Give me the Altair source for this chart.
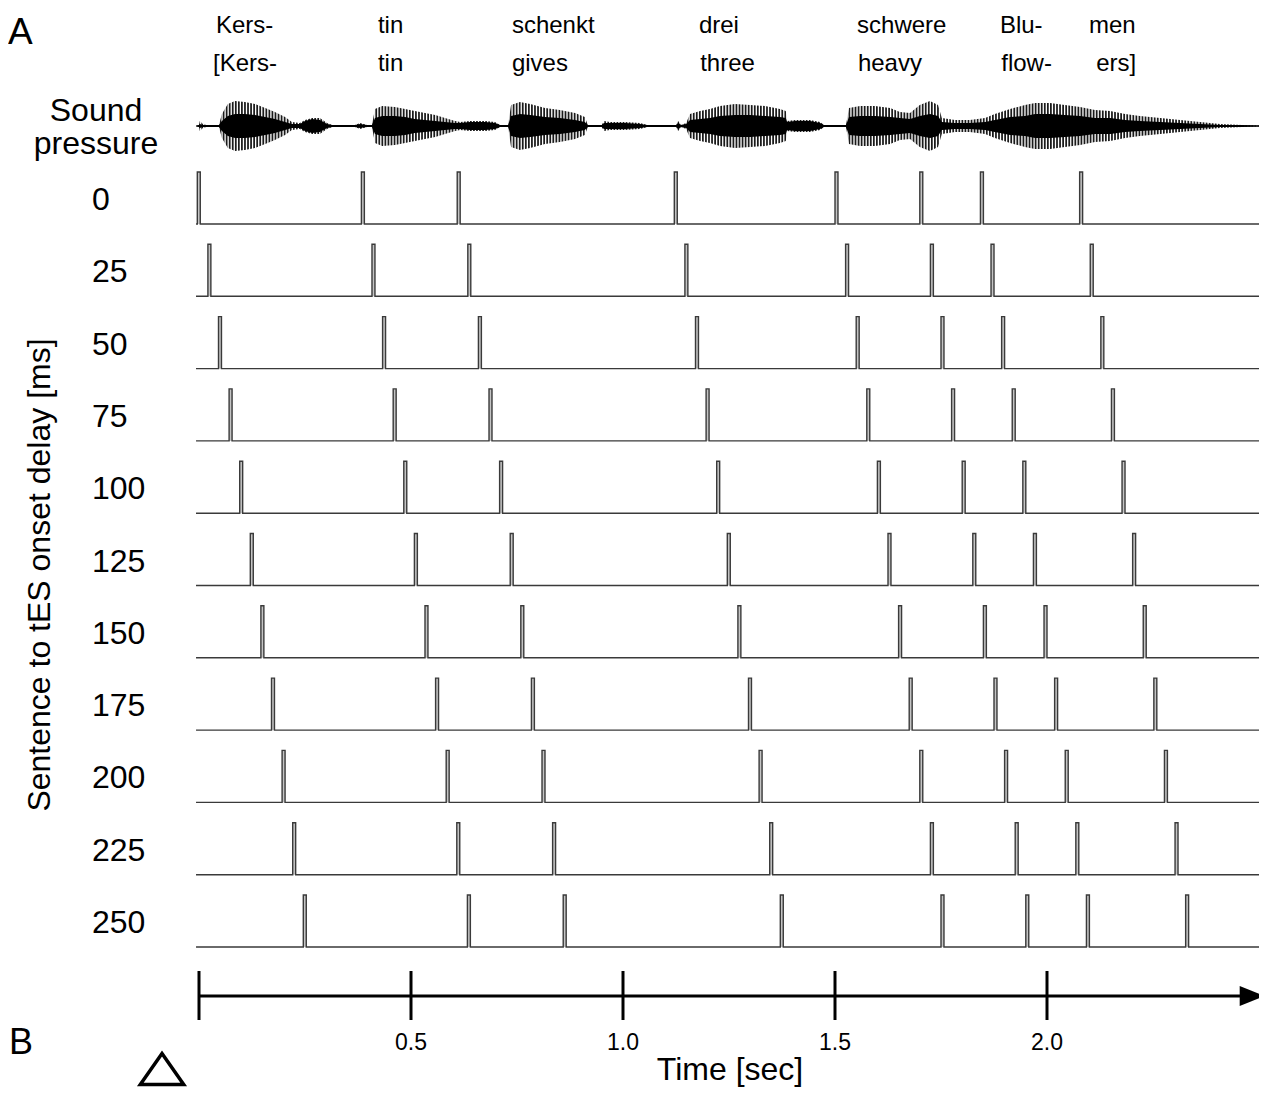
import altair as alt
import pandas as pd

# ---------------- data ----------------
DELAYS_MS = [0, 25, 50, 75, 100, 125, 150, 175, 200, 225, 250]
ROW0_ONSETS_S = [-0.004, 0.383, 0.609, 1.121, 1.500, 1.700, 1.843, 2.077]
PULSE_WIDTH_S = 0.007

WORDS_DE = ["Kers-", "tin", "schenkt", "drei", "schwere", "Blu-", "men"]
WORDS_DE_T = [0.040, 0.422, 0.738, 1.179, 1.552, 1.889, 2.099]
WORDS_EN = ["[Kers-", "tin", "gives", "three", "heavy", "flow-", "ers]"]
WORDS_EN_T = [0.033, 0.422, 0.738, 1.182, 1.554, 1.892, 2.116]

# sound-pressure envelope (time s, outer amplitude, dense-core amplitude)
ENV_T = [-0.007, 0.000, 0.002, 0.009, 0.017, 0.047, 0.054, 0.068, 0.085, 0.108,
         0.132, 0.156, 0.179, 0.203, 0.219, 0.238, 0.250, 0.267, 0.285, 0.302,
         0.314, 0.368, 0.380, 0.396, 0.408, 0.415, 0.432, 0.462, 0.486, 0.509,
         0.533, 0.557, 0.580, 0.604, 0.616, 0.639, 0.675, 0.698, 0.710, 0.729,
         0.736, 0.757, 0.781, 0.816, 0.851, 0.887, 0.910, 0.917, 0.950, 0.955,
         0.969, 1.005, 1.040, 1.057, 1.125, 1.130, 1.137, 1.149, 1.158, 1.182,
         1.205, 1.229, 1.264, 1.300, 1.335, 1.370, 1.384, 1.387, 1.406, 1.441,
         1.465, 1.474, 1.526, 1.533, 1.559, 1.594, 1.630, 1.653, 1.677, 1.700,
         1.724, 1.743, 1.752, 1.783, 1.818, 1.854, 1.877, 1.913, 1.948, 1.972,
         2.007, 2.042, 2.078, 2.113, 2.149, 2.184, 2.219, 2.267, 2.314, 2.361,
         2.408, 2.460, 2.500]
ENV_OUTER = [0, 1, 5, 2, 1, 1, 12, 22, 25, 24,
             22, 18, 14, 9, 4, 3, 6, 8, 8, 3,
             1, 1, 3, 1, 1, 17, 20, 19, 17, 15,
             13, 11, 8, 5, 4, 5, 5, 4, 1, 1,
             21, 24, 22, 18, 16, 13, 9, 1, 1, 5,
             4, 4, 3, 1, 1, 5, 1, 3, 12, 15,
             17, 20, 22, 21, 20, 17, 15, 5, 6, 6,
             4, 1, 1, 18, 20, 20, 18, 14, 13, 21,
             25, 21, 8, 6, 6, 8, 12, 17, 21, 23,
             23, 21, 19, 16, 15, 12, 10, 8, 6, 4,
             2, 1, 0.5]
ENV_INNER = [0, 1, 2, 1, 1, 1, 5, 10, 12, 12,
             11, 9, 7, 4, 2, 2, 5, 7, 6, 2,
             1, 1, 2, 1, 1, 8, 10, 10, 9, 7,
             6, 5, 4, 3, 3, 4, 4, 3, 1, 1,
             10, 12, 11, 9, 8, 6, 4, 1, 1, 3,
             3, 3, 2, 1, 1, 3, 1, 2, 6, 7,
             8, 10, 11, 11, 10, 9, 8, 4, 5, 5,
             3, 1, 1, 9, 10, 10, 9, 8, 7, 10,
             12, 10, 4, 3, 3, 4, 6, 9, 10, 12,
             12, 11, 10, 8, 8, 6, 5, 4, 3, 2,
             1, 1, 0.5]

TIME_TICKS = [0.0, 0.5, 1.0, 1.5, 2.0]
TICK_LABELS = ["", "0.5", "1.0", "1.5", "2.0"]
ROW_LABELS = [str(d) for d in DELAYS_MS]

# ---------------- layout (page pixels) ----------------
W, H = 1251, 1079
T_MIN, T_MAX = -0.45047, 2.5
ROW0_BASE, ROW_STEP, PULSE_H = 224.0, 72.3, 52.0
WAVE_Y = 126.0
FONT = "Liberation Sans"
STRIPE_STEP_S = 0.0072  # hatch spacing used only as a texture for the waveform

xs = alt.Scale(domain=[T_MIN, T_MAX])
ys = alt.Scale(domain=[8, 8 + H], reverse=True)
X = lambda f: alt.X(f, type="quantitative", scale=xs, axis=None)
Y = lambda f: alt.Y(f, type="quantitative", scale=ys, axis=None)

# pulse trains
rows = []
rects = []
t_start, t_end = -0.007, 2.5
for r, d in enumerate(DELAYS_MS):
    base = ROW0_BASE + r * ROW_STEP
    top = base - PULSE_H
    seq = 0
    rows.append(dict(row=r, seq=seq, t=t_start, y=base)); seq += 1
    for o in ROW0_ONSETS_S:
        t = o + d / 1000.0
        for tt, yy in [(t, base), (t, top), (t + PULSE_WIDTH_S, top), (t + PULSE_WIDTH_S, base)]:
            rows.append(dict(row=r, seq=seq, t=tt, y=yy)); seq += 1
        rects.append(dict(t=t, t2=t + PULSE_WIDTH_S, y=top, y2=base))
    rows.append(dict(row=r, seq=seq, t=t_end, y=base))
pulse_df = pd.DataFrame(rows)
rect_df = pd.DataFrame(rects)

pulse_fill = alt.Chart(rect_df).mark_rect(color="#c4c4c4").encode(
    x=X("t"), x2="t2", y=Y("y"), y2="y2")
pulse_lines = alt.Chart(pulse_df).mark_line(color="#3a3a3a", strokeWidth=1.4,
                                            interpolate="linear").encode(
    x=X("t"), y=Y("y"), detail="row:N", order="seq:Q")

# waveform
env_df = pd.DataFrame({"t": ENV_T, "outer": ENV_OUTER, "inner": ENV_INNER})
env_df["o_hi"] = WAVE_Y - env_df["outer"]
env_df["o_lo"] = WAVE_Y + env_df["outer"]
env_df["i_hi"] = WAVE_Y - env_df["inner"]
env_df["i_lo"] = WAVE_Y + env_df["inner"]
wave_outer = alt.Chart(env_df).mark_area(color="#1a1a1a").encode(
    x=X("t"), y=Y("o_hi"), y2="o_lo")
n_str = int((2.5 - 0.0) / STRIPE_STEP_S)
stripe_df = pd.DataFrame({"t": [0.004 + i * STRIPE_STEP_S for i in range(n_str)],
                          "y1": WAVE_Y - 30, "y2": WAVE_Y + 30})
stripes = alt.Chart(stripe_df).mark_rule(color="white", strokeWidth=1.3).encode(
    x=X("t"), y=Y("y1"), y2="y2")
wave_inner = alt.Chart(env_df).mark_area(color="#000000").encode(
    x=X("t"), y=Y("i_hi"), y2="i_lo")
wave_mid = alt.Chart(pd.DataFrame({"t": [t_start], "t2": [t_end], "y": [WAVE_Y]})).mark_rule(
    color="black", strokeWidth=1.2).encode(x=X("t"), x2="t2", y=Y("y"))

# words
words_df = pd.DataFrame({
    "t": WORDS_DE_T + WORDS_EN_T,
    "txt": WORDS_DE + WORDS_EN,
    "y": [33.0] * len(WORDS_DE) + [71.0] * len(WORDS_EN),
})
words = alt.Chart(words_df).mark_text(font=FONT, fontSize=24, align="left",
                                      baseline="alphabetic", color="black").encode(
    x=X("t"), y=Y("y"), text="txt:N")

# row labels
lab_df = pd.DataFrame({"txt": ROW_LABELS,
                       "y": [ROW0_BASE + i * ROW_STEP - 14 for i in range(len(ROW_LABELS))]})
row_labels = alt.Chart(lab_df).mark_text(font=FONT, fontSize=32, align="left",
                                         baseline="alphabetic", color="black").encode(
    x=alt.value(92 - 8), y=Y("y"), text="txt:N")

# time axis
AXIS_Y = 996.0
axis_line = alt.Chart(pd.DataFrame({"t": [0.0], "t2": [2.46], "y": [AXIS_Y]})).mark_rule(
    color="black", strokeWidth=3).encode(x=X("t"), x2="t2", y=Y("y"))
tick_df = pd.DataFrame({"t": TIME_TICKS, "lab": TICK_LABELS, "y1": 971.0, "y2": 1020.0, "ly": 1050.0})
ticks = alt.Chart(tick_df).mark_rule(color="black", strokeWidth=3).encode(
    x=X("t"), y=Y("y1"), y2="y2")
tick_labels = alt.Chart(tick_df).mark_text(font=FONT, fontSize=23, align="center",
                                           baseline="alphabetic", color="black").encode(
    x=X("t"), y=Y("ly"), text="lab:N")
arrow = alt.Chart(pd.DataFrame({"t": [2.484], "y": [AXIS_Y]})).mark_point(
    shape="M-1,-0.8L1,0L-1,0.8Z", size=625, filled=True, color="black", opacity=1).encode(
    x=X("t"), y=Y("y"))

# static annotations
def note(txt, px, py, size, align="left", angle=0, baseline="alphabetic"):
    kw = dict(font=FONT, fontSize=size, align=align, baseline=baseline, color="black", text=txt)
    if angle:
        kw["angle"] = angle
    return alt.Chart(pd.DataFrame({"a": [0]})).mark_text(**kw).encode(
        x=alt.value(px - 8), y=alt.value(py - 8))

notes = [
    note("A", 8, 44, 37),
    note("B", 9, 1054, 36),
    note("Sound", 96, 121, 32, align="center"),
    note("pressure", 96, 154, 32, align="center"),
    note("Sentence to tES onset delay [ms]", 40, 575, 32, align="center", angle=270,
         baseline="middle"),
    note("Time [sec]", 730, 1080, 32, align="center"),
]

head = alt.Chart(pd.DataFrame({"a": [0]})).mark_point(
    shape="M0,-1L1.4,1L-1.4,1Z", size=961, filled=False, color="black",
    strokeWidth=3.5, opacity=1).encode(x=alt.value(162 - 8), y=alt.value(1069 - 8))

chart = alt.layer(
    wave_outer, stripes, wave_inner, wave_mid, words,
    pulse_fill, pulse_lines, row_labels,
    axis_line, ticks, tick_labels, arrow, head, *notes
).properties(
    width=W, height=H, padding=0,
    autosize=alt.AutoSizeParams(type="none"),
).configure_view(stroke=None)

chart.save("out.html", embed_options={"renderer": "svg", "actions": False})
